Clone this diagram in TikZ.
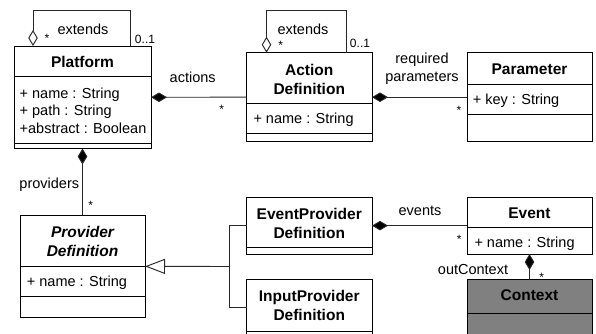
\documentclass[tikz,border=0pt]{standalone}
\usepackage{fontspec}
\setmainfont{Liberation Sans}
\usetikzlibrary{arrows.meta}
\definecolor{ctxgray}{RGB}{128,128,128}
\definecolor{linegray}{RGB}{40,40,40}
\begin{document}
\begin{tikzpicture}[x=1pt,y=-1pt,
  cls/.style={draw=black, line width=1pt, fill=white, inner sep=0pt, outer sep=0pt, anchor=north west},
  sepl/.style={draw=black, line width=1pt},
  ttl/.style={font=\fontsize{15.5}{18.8}\selectfont\bfseries, align=center, inner sep=0pt},
  attr/.style={font=\fontsize{14.5}{17.5}\selectfont, align=left, anchor=west, inner sep=0pt},
  lbl/.style={font=\fontsize{14.5}{18}\selectfont, align=center, inner sep=0pt},
  mult/.style={font=\fontsize{12}{14}\selectfont, inner sep=0pt},
  conn/.style={draw=linegray, line width=0.95pt},
  comp/.style={conn, {Diamond[length=16pt,width=9.5pt,fill=black]}-},
  aggr/.style={conn, {Diamond[open,length=16pt,width=9.5pt,fill=white]}-},
  gen/.style={conn, {Triangle[open,length=20pt,width=15pt,fill=white]}-}
]
\useasboundingbox (0,0) rectangle (596,333);
\clip (0,0) rectangle (596,333);

% class boxes
\node[cls, minimum width=137pt, minimum height=102.5pt] (platform) at (14,46) {};
\node[cls, minimum width=125.5pt, minimum height=89pt] (action) at (246.5,52.7) {};
\node[cls, minimum width=125pt, minimum height=89pt] (param) at (467,52.7) {};
\node[cls, minimum width=125pt, minimum height=102.7pt] (provider) at (20,215) {};
\node[cls, minimum width=125.5pt, minimum height=56.7pt] (eventprov) at (246.5,197.3) {};
\node[cls, minimum width=125.5pt, minimum height=56.7pt] (inputprov) at (246.5,279.3) {};
\node[cls, minimum width=125pt, minimum height=56.7pt] (event) at (467,197.3) {};
\node[cls, fill=ctxgray, minimum width=125pt, minimum height=70pt] (context) at (467,279.3) {};

% compartment separators
\draw[sepl] (platform.west |- 0,76.5) -- (platform.east |- 0,76.5);
\draw[sepl] (platform.west |- 0,143.3) -- (platform.east |- 0,143.3);
\draw[sepl] (action.west |- 0,103.3) -- (action.east |- 0,103.3);
\draw[sepl] (action.west |- 0,133.3) -- (action.east |- 0,133.3);
\draw[sepl] (param.west |- 0,84) -- (param.east |- 0,84);
\draw[sepl] (param.west |- 0,114) -- (param.east |- 0,114);
\draw[sepl] (provider.west |- 0,266) -- (provider.east |- 0,266);
\draw[sepl] (provider.west |- 0,296) -- (provider.east |- 0,296);
\draw[sepl] (eventprov.west |- 0,247.7) -- (eventprov.east |- 0,247.7);
\draw[sepl] (inputprov.west |- 0,331) -- (inputprov.east |- 0,331);
\draw[sepl] (event.west |- 0,227.7) -- (event.east |- 0,227.7);
\draw[sepl] (context.west |- 0,313.5) -- (context.east |- 0,313.5);

% titles
\node[ttl] (platformT) at (82.5,62) {Platform};
\node[ttl] (actionT) at (309.25,79.2) {Action\\Definition};
\node[ttl] (paramT) at (529.5,69.5) {Parameter};
\node[ttl, font=\fontsize{15.5}{18.8}\selectfont\bfseries\itshape] (providerT) at (82.5,241.2) {Provider\\Definition};
\node[ttl] (eventprovT) at (309.25,223.7) {EventProvider\\Definition};
\node[ttl] (inputprovT) at (309.25,305.5) {InputProvider\\Definition};
\node[ttl] (eventT) at (529.5,213.5) {Event};
\node[ttl] (contextT) at (529.5,295.5) {Context};

% attributes
\node[attr] (platformA) at (19.5,110.5) {+ name : String\\+ path : String\\+abstract : Boolean};
\node[attr] (actionA) at (253.3,119.3) {+ name : String};
\node[attr] (paramA) at (472.7,100.7) {+ key : String};
\node[attr] (providerA) at (26.7,282.7) {+ name : String};
\node[attr] (eventA) at (474.3,243.3) {+ name : String};

% self associations (extends)
\draw[aggr] ([xshift=19pt]platform.north west) -- ++(0,-35.3) -| ([xshift=116pt]platform.north west);
\draw[aggr] ([xshift=20pt]action.north west) -- ++(0,-42) -| ([xshift=99.5pt]action.north west);

% compositions
\draw[comp] (platform.east) -- (action.west);
\draw[comp] (action.east) -- (param.west);
\draw[comp] (platform.south) -- (provider.north);
\draw[comp] (eventprov.east) -- (event.west);
\draw[comp] (event.south) -- (context.north);

% generalization
\coordinate (j) at (229.3,266.5);
\draw[gen] (provider.east) -- (j);
\draw[conn] (eventprov.west) -| (j) |- (inputprov.west);

% labels
\node[lbl] (ext1) at (83,29) {extends};
\node[mult] (ext1s) at (47,38.5) {*};
\node[mult] (ext1m) at (145,39) {0..1};
\node[lbl] (ext2) at (303,29.5) {extends};
\node[mult] (ext2s) at (280.7,45.5) {*};
\node[mult] (ext2m) at (360,43) {0..1};
\node[lbl] (actionsL) at (192.7,77.3) {actions};
\node[mult] (actionsS) at (221.7,109.2) {*};
\node[lbl] (reqL) at (422,68.3) {required\\parameters};
\node[mult] (reqS) at (459,110.5) {*};
\node[lbl] (provL) at (49.3,185) {providers};
\node[mult] (provS) at (90.7,205.8) {*};
\node[lbl] (eventsL) at (420,210.5) {events};
\node[mult] (eventsS) at (459.3,239.2) {*};
\node[lbl] (ctxL) at (473,269) {outContext};
\node[mult] (ctxS) at (541.7,277.5) {*};
\end{tikzpicture}
\end{document}
